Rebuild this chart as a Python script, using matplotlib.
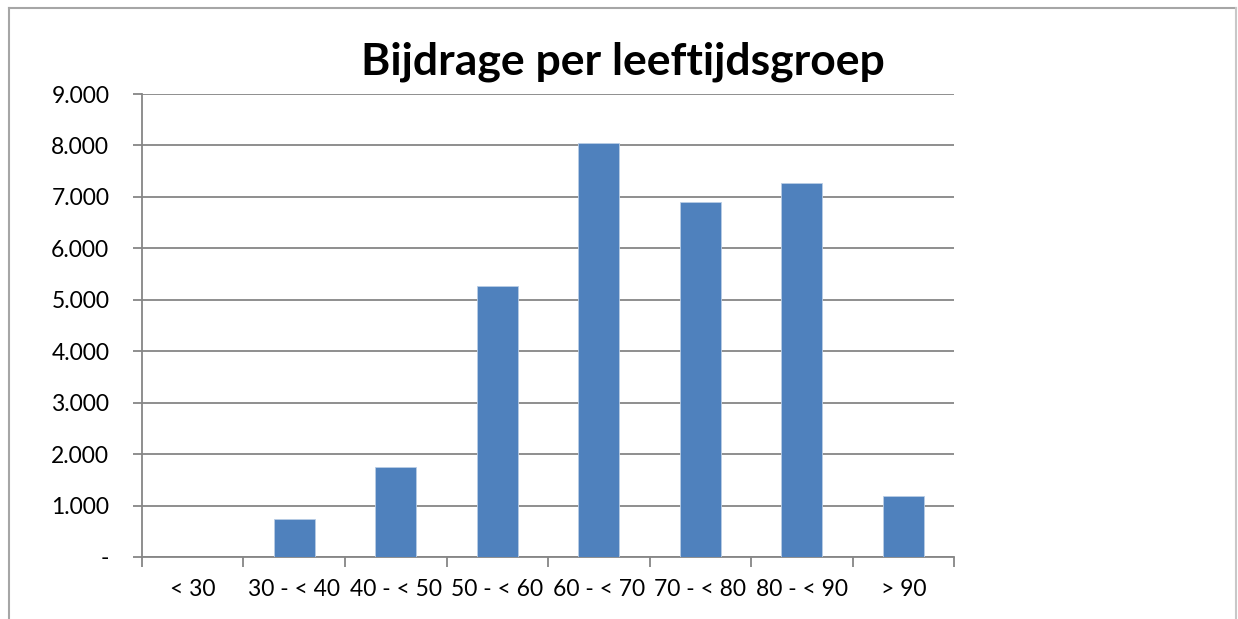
import matplotlib.pyplot as plt
import numpy as np
from matplotlib.ticker import FuncFormatter

groepen = ["< 30", "30 - < 40", "40 - < 50", "50 - < 60", "60 - < 70", "70 - < 80", "80 - < 90", "> 90"]
bijdrage = [0, 740, 1750, 5270, 8050, 6900, 7270, 1185]
y_ticks = [0, 1000, 2000, 3000, 4000, 5000, 6000, 7000, 8000, 9000]

plt.rcParams['font.family'] = ['Lato', 'DejaVu Sans']
grijs = "#868686"

fig = plt.figure(figsize=(12.38, 6.19), dpi=100)
ax = fig.add_axes([0.1147, 0.1002, 0.6559, 0.7479])

x = np.arange(len(groepen))
ax.bar(x, bijdrage, width=0.4, color="#4f81bd", edgecolor="#b9cde5", linewidth=0.6, zorder=3)

ax.set_xlim(-0.5, len(groepen) - 0.5)
ax.set_ylim(0, 9000)
ax.set_yticks(y_ticks)

def fmt(v, pos):
    if v == 0:
        return "-"
    return "{:,.0f}".format(v).replace(",", ".")

ax.yaxis.set_major_formatter(FuncFormatter(fmt))
ax.grid(axis="y", color=grijs, linewidth=1.3, zorder=0)

# category boundaries as major ticks, labels on minor ticks
ax.set_xticks(np.arange(-0.5, len(groepen)), labels=[])
ax.set_xticks(x, labels=groepen, minor=True)
ax.tick_params(axis="x", which="major", length=7, width=1.3, color=grijs)
ax.tick_params(axis="x", which="minor", length=0, labelsize=16.5, pad=16)
ax.tick_params(axis="y", length=6.5, width=1.3, color=grijs, labelsize=16.5, pad=17)

for s in ["top", "right"]:
    ax.spines[s].set_visible(False)
for s in ["left", "bottom"]:
    ax.spines[s].set_color(grijs)
    ax.spines[s].set_linewidth(1.3)

fig.text(0.503, 0.9, "Bijdrage per leeftijdsgroep", ha="center", va="center",
         fontsize=32, fontweight="bold")

# outer chart frame
rand = "#a6a6a6"
fig.add_artist(plt.Line2D([0.0073, 0.0073], [-0.01, 0.987], color=rand, lw=1.5, transform=fig.transFigure))
fig.add_artist(plt.Line2D([0.0073, 0.9985], [0.987, 0.987], color=rand, lw=1.5, transform=fig.transFigure))
fig.add_artist(plt.Line2D([0.9985, 0.9985], [-0.01, 0.987], color="#c8c8c8", lw=1.5, transform=fig.transFigure))

fig.savefig("out.png", dpi=100)
